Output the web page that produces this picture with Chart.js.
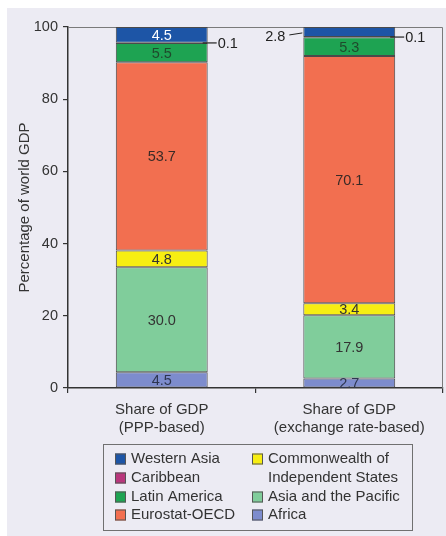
<!DOCTYPE html>
<html>
<head>
<meta charset="utf-8">
<script src="https://cdn.jsdelivr.net/npm/chart.js@4/dist/chart.umd.min.js"></script>
<style>
  html, body { margin: 0; padding: 0; background: #ffffff; }
  #wrap { width: 446px; height: 536px; }
</style>
</head>
<body>
<div id="wrap"><canvas id="gdp" width="446" height="536"></canvas></div>
<script>
// Regional shares of world GDP, two bases of comparison
const categories = [['Share of GDP', '(PPP-based)'], ['Share of GDP', '(exchange rate-based)']];
const africa       = [4.5, 2.7];
const asiaPacific  = [30.0, 17.9];
const cis          = [4.8, 3.4];
const eurostatOecd = [53.7, 70.1];
const latinAmerica = [5.5, 5.3];
const caribbean    = [0.1, 0.1];
const westernAsia  = [4.5, 2.8];
const yTicks = [0, 20, 40, 60, 80, 100];

const FONT = "'Liberation Sans', Arial, Helvetica, sans-serif";
const INK = '#333333';

// stacked bottom to top
const series = [
  { name: 'Africa', values: africa, color: '#7d8ccd', text: '#2e3650' },
  { name: 'Asia and the Pacific', values: asiaPacific, color: '#80cd9b', text: '#333333' },
  { name: 'Commonwealth of Independent States', values: cis, color: '#f7ee12', text: '#333333' },
  { name: 'Eurostat-OECD', values: eurostatOecd, color: '#f26f50', text: '#3a2a26' },
  { name: 'Latin America', values: latinAmerica, color: '#1ea352', text: '#1f4a2c' },
  { name: 'Caribbean', values: caribbean, color: '#b8367c', text: '#333333' },
  { name: 'Western Asia', values: westernAsia, color: '#1d55a6', text: '#ffffff' }
];

// labels drawn beside the bar with a leader line instead of inside it
const callouts = {
  'Caribbean': ['right', 'right'],
  'Western Asia': [null, 'left']
};

// legend: two columns, entries by dataset name with their text lines
const legendColumns = [
  [['Western Asia', ['Western Asia']], ['Caribbean', ['Caribbean']], ['Latin America', ['Latin America']], ['Eurostat-OECD', ['Eurostat-OECD']]],
  [['Commonwealth of Independent States', ['Commonwealth of', 'Independent States']], ['Asia and the Pacific', ['Asia and the Pacific']], ['Africa', ['Africa']]]
];

// each column is scaled by its own total so that the stack fills 100 %
const totals = categories.map((_, i) => series.reduce((s, d) => s + d.values[i], 0));

const datasets = series.map(d => ({
  label: d.name,
  data: d.values.map((v, i) => v / totals[i] * 100),
  rawValues: d.values,
  textColor: d.text,
  backgroundColor: d.color,
  borderColor: '#4a4a4a',
  borderWidth: 1,
  borderSkipped: false,
  barPercentage: 0.49,
  categoryPercentage: 1.0
}));

const panelPlugin = {
  id: 'panel',
  beforeDraw(chart) {
    const { ctx, width, height } = chart;
    ctx.save();
    ctx.fillStyle = '#ffffff';
    ctx.fillRect(0, 0, width, height);
    ctx.fillStyle = '#ecebf3';
    ctx.fillRect(7, 8, width - 7, height - 8);
    ctx.restore();
  },
  beforeDatasetsDraw(chart) {
    const { ctx, chartArea: a } = chart;
    ctx.save();
    ctx.strokeStyle = '#7a7a7a';
    ctx.lineWidth = 1;
    ctx.beginPath();
    ctx.moveTo(a.left, a.top + 0.5);
    ctx.lineTo(a.right - 0.5, a.top + 0.5);
    ctx.lineTo(a.right - 0.5, a.bottom);
    ctx.stroke();
    ctx.restore();
  }
};

const valueLabelPlugin = {
  id: 'valueLabels',
  afterDatasetsDraw(chart) {
    const { ctx } = chart;
    ctx.save();
    ctx.font = '14.5px ' + FONT;
    ctx.textBaseline = 'middle';
    chart.data.datasets.forEach((ds, di) => {
      const meta = chart.getDatasetMeta(di);
      meta.data.forEach((bar, i) => {
        const raw = ds.rawValues[i];
        const txt = raw.toFixed(1);
        const midY = (bar.y + bar.base) / 2;
        const half = bar.width / 2;
        const side = (callouts[ds.label] || [])[i];
        if (side === 'right') {
          const x0 = bar.x + half - 5;
          ctx.strokeStyle = '#222';
          ctx.lineWidth = 1.2;
          ctx.beginPath();
          ctx.moveTo(x0, midY);
          ctx.lineTo(bar.x + half + 9, midY);
          ctx.stroke();
          ctx.fillStyle = '#222';
          ctx.textAlign = 'left';
          ctx.fillText(txt, bar.x + half + 10, midY + 1);
        } else if (side === 'left') {
          const x0 = bar.x - half - 1;
          ctx.strokeStyle = '#222';
          ctx.lineWidth = 1;
          ctx.beginPath();
          ctx.moveTo(x0, midY + 1);
          ctx.lineTo(x0 - 13, midY + 3);
          ctx.stroke();
          ctx.fillStyle = '#222';
          ctx.textAlign = 'right';
          ctx.fillText(txt, x0 - 17, midY + 5);
        } else {
          ctx.fillStyle = ds.textColor;
          ctx.textAlign = 'center';
          ctx.fillText(txt, bar.x, midY + 1);
        }
      });
    });
    ctx.restore();
  }
};

const decorPlugin = {
  id: 'decor',
  afterDraw(chart) {
    const { ctx, chartArea: a } = chart;
    ctx.save();
    // y-axis title
    ctx.translate(25, (a.top + a.bottom) / 2);
    ctx.rotate(-Math.PI / 2);
    ctx.font = '15px ' + FONT;
    ctx.fillStyle = INK;
    ctx.textAlign = 'center';
    ctx.textBaseline = 'middle';
    ctx.fillText('Percentage of world GDP', 0, 0);
    ctx.restore();

    // legend box
    ctx.save();
    const bx = 103, by = 444, bw = 309, bh = 86;
    ctx.strokeStyle = '#707070';
    ctx.lineWidth = 1;
    ctx.strokeRect(bx + 0.5, by + 0.5, bw, bh);
    const colX = [115, 252];
    const rowY = [459, 478, 497, 515];
    ctx.font = '15px ' + FONT;
    ctx.textBaseline = 'middle';
    ctx.textAlign = 'left';
    legendColumns.forEach((col, c) => {
      let row = 0;
      col.forEach(([name, lines]) => {
        const ds = chart.data.datasets.find(d => d.label === name);
        const y = rowY[row];
        ctx.fillStyle = ds.backgroundColor;
        ctx.fillRect(colX[c], y - 5.5, 11, 11);
        ctx.strokeStyle = '#555';
        ctx.strokeRect(colX[c] + 0.5, y - 5.5 + 0.5, 10, 10);
        ctx.fillStyle = INK;
        lines.forEach((ln, k) => {
          ctx.fillText(ln, colX[c] + 16, rowY[row + k]);
        });
        row += lines.length;
      });
    });
    ctx.restore();
  }
};

new Chart(document.getElementById('gdp'), {
  type: 'bar',
  data: { labels: categories, datasets },
  plugins: [panelPlugin, valueLabelPlugin, decorPlugin],
  options: {
    responsive: false,
    animation: false,
    devicePixelRatio: 1,
    layout: { padding: { left: 0, top: 27, right: 3, bottom: 0 } },
    plugins: { legend: { display: false }, tooltip: { enabled: false } },
    scales: {
      x: {
        stacked: true,
        offset: true,
        grid: { offset: true, drawOnChartArea: false, drawTicks: true, tickLength: 5, color: INK, lineWidth: 1.2 },
        border: { display: true, color: INK, width: 1.5 },
        ticks: { font: { family: FONT, size: 15 }, color: INK, padding: 8, maxRotation: 0, autoSkip: false },
        afterFit(s) { s.height = 148; }
      },
      y: {
        stacked: true,
        min: 0,
        max: 100,
        afterBuildTicks(s) { s.ticks = yTicks.map(v => ({ value: v })); },
        grid: { drawOnChartArea: false, drawTicks: true, tickLength: 5, color: INK, lineWidth: 1.2 },
        border: { display: true, color: INK, width: 1.5 },
        ticks: { font: { family: FONT, size: 14.5 }, color: INK, padding: 5 },
        afterFit(s) { s.width = 68; }
      }
    }
  }
});
</script>
</body>
</html>
